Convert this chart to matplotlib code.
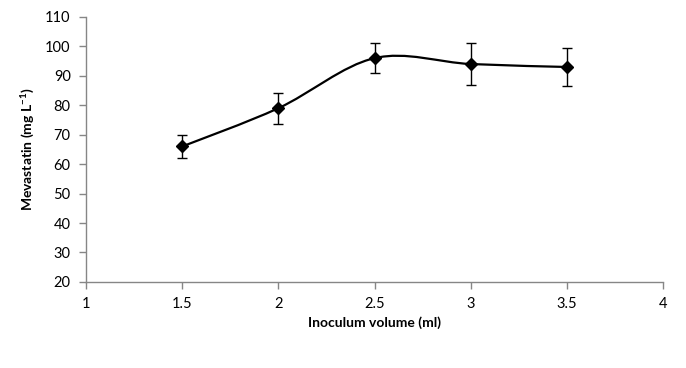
import numpy as np
import matplotlib
matplotlib.use("Agg")
from matplotlib import pyplot as plt
from matplotlib.path import Path
from matplotlib.patches import PathPatch

# Messdaten
volume = [1.5, 2.0, 2.5, 3.0, 3.5]
mevastatin = [66, 79, 96, 94, 93]
err = [4, 5.2, 5, 7, 6.5]

x_ticks = [1, 1.5, 2, 2.5, 3, 3.5, 4]
y_ticks = [20, 30, 40, 50, 60, 70, 80, 90, 100, 110]

plt.rcParams['font.family'] = ['Lato', 'DejaVu Sans']
plt.rcParams['mathtext.fontset'] = 'custom'
plt.rcParams['mathtext.rm'] = 'Lato'
plt.rcParams['mathtext.bf'] = 'Lato:bold'

fig = plt.figure(figsize=(6.86, 3.68), dpi=100)
ax = fig.add_axes([0.1254, 0.234, 0.8411, 0.72])

# geglaettete Linie (Excel-artige Bezier-Kurve)
xs = np.array(volume, dtype=float)
ys = np.array(mevastatin, dtype=float)
verts = [(xs[0], ys[0])]
codes = [Path.MOVETO]
n = len(xs)
for i in range(n - 1):
    i0 = max(i - 1, 0)
    i3 = min(i + 2, n - 1)
    c1 = (xs[i] + (xs[i + 1] - xs[i0]) / 6, ys[i] + (ys[i + 1] - ys[i0]) / 6)
    c2 = (xs[i + 1] - (xs[i3] - xs[i]) / 6, ys[i + 1] - (ys[i3] - ys[i]) / 6)
    verts += [c1, c2, (xs[i + 1], ys[i + 1])]
    codes += [Path.CURVE4] * 3
ax.add_patch(PathPatch(Path(verts, codes), fill=False, edgecolor='black', lw=1.6, zorder=2))

ax.errorbar(volume, mevastatin, yerr=err, fmt='none', ecolor='black',
            elinewidth=1.0, capsize=3.5, capthick=1.0, zorder=3)
ax.plot(volume, mevastatin, 'D', color='black', markersize=6.5, zorder=4)

ax.set_xlim(1, 4)
ax.set_ylim(20, 110)
ax.set_xticks(x_ticks)
ax.set_xticklabels(['1', '1.5', '2', '2.5', '3', '3.5', '4'])
ax.set_yticks(y_ticks)

for s in ['top', 'right']:
    ax.spines[s].set_visible(False)
for s in ['left', 'bottom']:
    ax.spines[s].set_color('#868686')
    ax.spines[s].set_linewidth(1.0)
ax.tick_params(direction='out', color='#868686', length=5, width=1.0,
               labelsize=10.5, labelcolor='black', pad=6)

ax.set_xlabel('Inoculum volume (ml)', fontsize=10, fontweight='bold', labelpad=4)
ax.set_ylabel(r'Mevastatin (mg L$^{\mathbf{-1}}$)', fontsize=10, fontweight='bold', labelpad=7)

fig.savefig('out.png', dpi=100)
